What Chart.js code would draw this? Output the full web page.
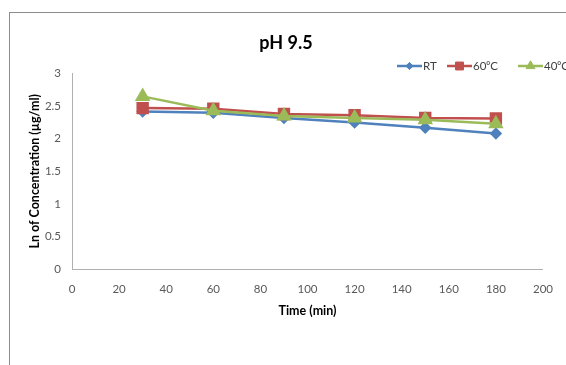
<!DOCTYPE html>
<html>
<head>
<meta charset="utf-8">
<script src="https://cdn.jsdelivr.net/npm/chart.js@4.4.1/dist/chart.umd.min.js"></script>
<style>
  html, body { margin: 0; padding: 0; background: #fff; }
  #wrap { position: relative; width: 566px; height: 365px; overflow: hidden; }
  #frame { position: absolute; left: 9px; top: 12px; width: 600px; height: 400px;
           border-top: 1px solid #8c8c8c; border-left: 1px solid #8c8c8c; }
  #chart { position: absolute; left: 0; top: 0; }
</style>
</head>
<body>
<div id="wrap">
  <div id="frame"></div>
  <canvas id="chart" width="566" height="365"></canvas>
</div>
<script>
var times = [30, 60, 90, 120, 150, 180];
var rtVals = [2.42, 2.40, 2.32, 2.25, 2.17, 2.08];
var t60Vals = [2.47, 2.46, 2.38, 2.36, 2.32, 2.31];
var t40Vals = [2.65, 2.43, 2.35, 2.32, 2.29, 2.23];
var seriesNames = ['RT', '60\u2070C', '40\u2070C'];

var FONT = 'Lato, "Open Sans", sans-serif';

function pts(vals) { return times.map((t, i) => ({ x: t, y: vals[i] })); }

function marker(ctx, style, x, y, r, color) {
    ctx.save();
    ctx.fillStyle = color; ctx.strokeStyle = color; ctx.lineWidth = 1;
    ctx.beginPath();
    if (style === 'rectRot') {
        ctx.moveTo(x, y - r); ctx.lineTo(x + r, y); ctx.lineTo(x, y + r); ctx.lineTo(x - r, y);
    } else if (style === 'rect') {
        let s = r * Math.SQRT1_2;
        ctx.rect(x - s, y - s, 2 * s, 2 * s);
    } else {
        let w = r * Math.sqrt(3) / 2;
        ctx.moveTo(x, y - r); ctx.lineTo(x + w, y + r / 2); ctx.lineTo(x - w, y + r / 2);
    }
    ctx.closePath(); ctx.fill(); ctx.stroke();
    ctx.restore();
}

// legend: line with marker through it, then the label
var lineLegend = {
    id: 'lineLegend',
    afterDraw(chart) {
        let ctx = chart.ctx, y = 66;
        let starts = [397, 447, 518];
        chart.data.datasets.forEach((ds, i) => {
            let x0 = starts[i];
            ctx.save();
            ctx.strokeStyle = ds.borderColor; ctx.lineWidth = 2.5;
            ctx.beginPath(); ctx.moveTo(x0, y); ctx.lineTo(x0 + 25, y); ctx.stroke();
            ctx.restore();
            marker(ctx, ds.pointStyle, x0 + 12.5, y, ds.pointRadius * 0.8, ds.borderColor);
            ctx.save();
            ctx.fillStyle = '#404040'; ctx.font = '11.5px ' + FONT;
            ctx.textBaseline = 'middle'; ctx.textAlign = 'left';
            ctx.fillText(ds.label, x0 + 26, y);
            ctx.restore();
        });
    }
};

new Chart(document.getElementById('chart'), {
    type: 'line',
    data: { datasets: [
        { label: seriesNames[0], data: pts(rtVals), borderColor: '#4F81BD', backgroundColor: '#4F81BD',
          borderWidth: 2.5, pointStyle: 'rectRot', pointRadius: 4.5, order: 3 },
        { label: seriesNames[1], data: pts(t60Vals), borderColor: '#C0504D', backgroundColor: '#C0504D',
          borderWidth: 2.5, pointStyle: 'rect', pointRadius: 7, order: 2 },
        { label: seriesNames[2], data: pts(t40Vals), borderColor: '#9BBB59', backgroundColor: '#9BBB59',
          borderWidth: 2.5, pointStyle: 'triangle', pointRadius: 6.5, order: 1 }
    ]},
    options: {
        responsive: false, animation: false,
        layout: { padding: { left: 23, right: 17, top: 0, bottom: 43 } },
        plugins: {
            legend: { display: false },
            tooltip: { enabled: false },
            title: { display: true, text: 'pH 9.5', color: '#000',
                     font: { family: FONT, size: 18, weight: 'bold' }, padding: { top: 32, bottom: 20 } }
        },
        scales: {
            x: { type: 'linear', min: 0, max: 200,
                 ticks: { stepSize: 20, color: '#595959', padding: 13, font: { family: FONT, size: 11.5 } },
                 grid: { display: false, drawTicks: false },
                 border: { display: true, color: '#b0b0b0', width: 1 },
                 title: { display: true, text: 'Time (min)', color: '#000', font: { family: FONT, size: 12.5, weight: 'bold' } },
                 afterFit: s => { s.height = 53; } },
            y: { min: 0, max: 3,
                 ticks: { stepSize: 0.5, color: '#595959', padding: 11, font: { family: FONT, size: 11.5 },
                          callback: v => String(Math.round(v * 10) / 10) },
                 grid: { display: false, drawTicks: false },
                 border: { display: true, color: '#b0b0b0', width: 1 },
                 title: { display: true, text: 'Ln of Concentration (\u00b5g/ml)', color: '#000', font: { family: FONT, size: 12.5, weight: 'bold' } },
                 afterFit: s => { s.width = 49; } }
        }
    },
    plugins: [lineLegend]
});
</script>
</body>
</html>
